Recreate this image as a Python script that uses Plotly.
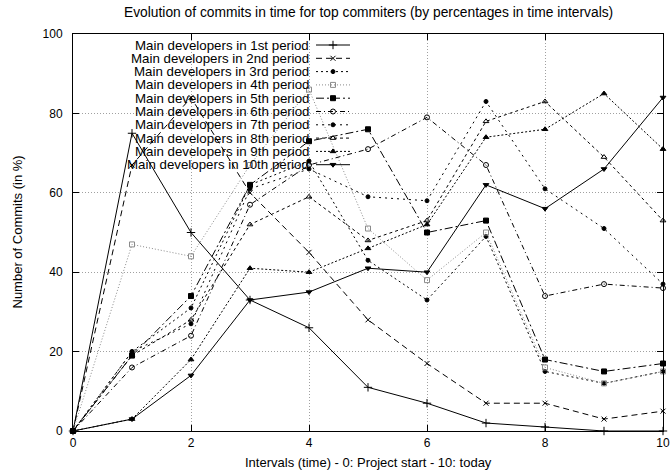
import plotly.graph_objects as go

intervals = [0, 1, 2, 3, 4, 5, 6, 7, 8, 9, 10]

series_names = [
    "Main developers in 1st period",
    "Main developers in 2nd period",
    "Main developers in 3rd period",
    "Main developers in 4th period",
    "Main developers in 5th period",
    "Main developers in 6th period",
    "Main developers in 7th period",
    "Main developers in 8th period",
    "Main developers in 9th period",
    "Main developers in 10th period",
]

p1 = [0, 75, 50, 33, 26, 11, 7, 2, 1, 0, 0]
p2 = [0, 67, 84, 60, 45, 28, 17, 7, 7, 3, 5]
p3 = [0, 20, 31, 62, 68, 43, 33, 49, 15, 12, 15]
p4 = [0, 47, 44, 67, 86, 51, 38, 50, 16, 12, 15]
p5 = [0, 19, 34, 62, 73, 76, 50, 53, 18, 15, 17]
p6 = [0, 16, 24, 57, 67, 71, 79, 67, 34, 37, 36]
p7 = [0, 20, 27, 61, 66, 59, 58, 83, 61, 51, 37]
p8 = [0, 19, 28, 52, 59, 48, 53, 78, 83, 69, 53]
p9 = [0, 3, 18, 41, 40, 46, 52, 74, 76, 85, 71]
p10 = [0, 3, 14, 33, 35, 41, 40, 62, 56, 66, 84]

series_values = [p1, p2, p3, p4, p5, p6, p7, p8, p9, p10]

x_ticks = [0, 2, 4, 6, 8, 10]
y_ticks = [0, 20, 40, 60, 80, 100]

styles = [
    dict(dash="solid", color="black", symbol="cross-thin", size=6),
    dict(dash="6px,4px", color="black", symbol="x-thin", size=5),
    dict(dash="2px,3px", color="black", symbol="circle", size=4),
    dict(dash="1px,2px", color="#8a8a8a", symbol="square-open", size=5),
    dict(dash="8px,3px,2px,3px", color="black", symbol="square", size=5),
    dict(dash="5px,3px,1px,3px", color="black", symbol="circle-open", size=5),
    dict(dash="2px,4px", color="black", symbol="circle", size=4),
    dict(dash="3px,3px", color="black", symbol="triangle-up-open", size=5),
    dict(dash="2px,2px", color="black", symbol="triangle-up", size=5),
    dict(dash="solid", color="black", symbol="triangle-down", size=5),
]

FONT = "Liberation Sans, Arial, sans-serif"

W, H = 672, 474
L, R, T, B = 73, 663, 34, 431  # plot area in pixels

fig = go.Figure()

for name, vals, st in zip(series_names, series_values, styles):
    fig.add_trace(go.Scatter(
        x=intervals, y=vals, name=name, mode="lines+markers",
        line=dict(color=st["color"], width=1, dash=st["dash"]),
        marker=dict(symbol=st["symbol"], size=st["size"], color=st["color"],
                    line=dict(color=st["color"], width=1)),
        showlegend=False, cliponaxis=False,
    ))

# Custom gnuplot-style legend (text right-aligned, key sample to the right),
# drawn on an overlay axis whose units are screen pixels.
leg_top = 45
leg_step = 13.3
leg_text_right = 311
leg_key_left = 316
leg_key_right = 350
annotations = []
for i, (name, st) in enumerate(zip(series_names, styles)):
    yy = leg_top + i * leg_step
    fig.add_trace(go.Scatter(
        x=[leg_key_left, (leg_key_left + leg_key_right) / 2, leg_key_right],
        y=[yy, yy, yy], xaxis="x2", yaxis="y2", mode="lines",
        line=dict(color=st["color"], width=1, dash=st["dash"]),
        showlegend=False, hoverinfo="skip",
    ))
    fig.add_trace(go.Scatter(
        x=[(leg_key_left + leg_key_right) / 2], y=[yy], xaxis="x2", yaxis="y2",
        mode="markers",
        marker=dict(symbol=st["symbol"], size=st["size"], color=st["color"],
                    line=dict(color=st["color"], width=1)),
        showlegend=False, hoverinfo="skip",
    ))
    annotations.append(dict(
        x=leg_text_right, y=yy, xref="x2", yref="y2", text=name,
        showarrow=False, xanchor="right", yanchor="middle",
        font=dict(family=FONT, size=13.3, color="black"),
    ))

# Axis titles and chart title as annotations (precise placement)
annotations.append(dict(
    x=0.5, y=(B - 462) / (B - T), xref="paper", yref="paper",
    text="Intervals (time) - 0: Project start - 10: today", showarrow=False,
    xanchor="center", yanchor="middle",
    font=dict(family=FONT, size=13, color="black"),
))
annotations.append(dict(
    x=(17 - L) / (R - L), y=0.5, xref="paper", yref="paper",
    text="Number of Commits (in %)", showarrow=False, textangle=-90,
    xanchor="center", yanchor="middle",
    font=dict(family=FONT, size=13, color="black"),
))
annotations.append(dict(
    x=0.5, y=(B - 12) / (B - T), xref="paper", yref="paper",
    text="Evolution of commits in time for top commiters (by percentages in time intervals)",
    showarrow=False, xanchor="center", yanchor="middle",
    font=dict(family=FONT, size=13.8, color="black"),
))

axis_common = dict(
    showline=True, linecolor="black", linewidth=1, mirror="ticks",
    ticks="inside", ticklen=6, tickcolor="black",
    showgrid=True, gridcolor="#a0a0a0", griddash="1px,2px", gridwidth=1,
    zeroline=False, automargin=False, ticklabeloverflow="allow",
    tickfont=dict(family=FONT, size=12, color="black"),
)

fig.update_layout(
    width=W, height=H,
    margin=dict(l=L, r=W - R, t=T, b=H - B, autoexpand=False),
    paper_bgcolor="white", plot_bgcolor="white",
    xaxis=dict(
        range=[0, 10], tickvals=x_ticks, ticktext=[str(v) for v in x_ticks],
        ticklabelstandoff=1,
        **axis_common,
    ),
    yaxis=dict(
        range=[0, 100], tickvals=y_ticks, ticktext=[str(v) for v in y_ticks],
        ticklabelstandoff=7,
        **axis_common,
    ),
    xaxis2=dict(range=[L, R], overlaying="x", anchor="y2", visible=False,
                fixedrange=True),
    yaxis2=dict(range=[B, T], overlaying="y", anchor="x2", visible=False,
                fixedrange=True),
    annotations=annotations,
    showlegend=False,
)

fig.write_html(
    "out.html",
    config={"displayModeBar": False},
    post_script="document.body.style.margin='0px';document.body.style.padding='0px';",
)
